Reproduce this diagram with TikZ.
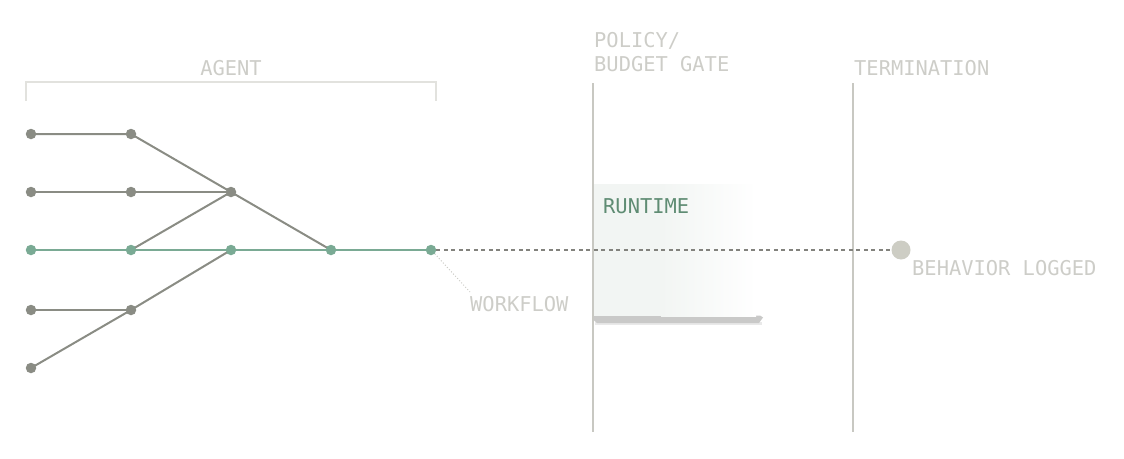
\documentclass[tikz,border=0pt]{standalone}
\usepackage{fontspec}
\newfontfamily\monof{DejaVu Sans Mono}
\usetikzlibrary{backgrounds}
\definecolor{edgegray}{RGB}{138,140,132}
\definecolor{flowgreen}{RGB}{122,170,148}
\definecolor{rulegray}{RGB}{200,200,194}
\definecolor{brackgray}{RGB}{226,226,222}
\definecolor{labgray}{RGB}{205,205,200}
\definecolor{dashgray}{RGB}{130,130,125}
\definecolor{rtgreen}{RGB}{95,140,115}
\definecolor{rtfill}{RGB}{242,245,243}
\definecolor{endgray}{RGB}{205,205,196}
\definecolor{shadowgray}{RGB}{201,201,200}
\tikzset{
  dotg/.style={circle,fill=edgegray,inner sep=0pt,minimum size=10.5pt},
  dotf/.style={circle,fill=flowgreen,inner sep=0pt,minimum size=10.5pt},
  ge/.style={edgegray,line width=2pt},
  fe/.style={flowgreen,line width=2.5pt},
  lab/.style={font=\monof\fontsize{20.4}{24}\selectfont,text=labgray,inner sep=0pt},
  rule/.style={rulegray,line width=2pt}
}
\begin{document}
\begin{tikzpicture}[x=1pt,y=-1pt]
\useasboundingbox (0,0) rectangle (1124,458);
% runtime box
\fill[shadowgray!40] (595,322) rectangle (762,325);
\fill[shadowgray] (594,315.5) -- (760,315.5) -- (763,317.5) -- (759,323) -- (597,323) -- (594,320.5) -- cycle;
\fill[rtfill] (593,184) rectangle (662,316);
\shade[left color=rtfill,right color=white] (661,184) rectangle (756,316);
\node[lab,text=rtgreen,anchor=base west] (rt) at (603,213) {RUNTIME};
% vertical rules
\coordinate (p1) at (593,83);
\coordinate (p2) at (593,432);
\coordinate (t1) at (853,83);
\coordinate (t2) at (853,432);
\draw[rule] (p1) -- (p2);
\draw[rule] (t1) -- (t2);
\node[lab,anchor=base west] (pol) at (594,47) {POLICY/};
\node[lab,anchor=base west] (bud) at (594,71.5) {BUDGET GATE};
\node[lab,anchor=base west] (term) at (854,75) {TERMINATION};
% bracket
\coordinate (b1) at (26,101);
\coordinate (b2) at (26,82);
\coordinate (b3) at (436,82);
\coordinate (b4) at (436,101);
\draw[brackgray,line width=2pt] (b1) -- (b2) -- (b3) -- (b4);
\node[lab,anchor=base] (agent) at (231,75) {AGENT};
% nodes
\node[dotg] (a1) at (31,134) {};
\node[dotg] (a2) at (131,134) {};
\node[dotg] (b1n) at (31,192) {};
\node[dotg] (b2n) at (131,192) {};
\node[dotg] (b3n) at (231,192) {};
\node[dotf] (g1) at (31,250) {};
\node[dotf] (g2) at (131,250) {};
\node[dotf] (g3) at (231,250) {};
\node[dotf] (g4) at (331,250) {};
\node[dotf] (g5) at (431,250) {};
\node[dotg] (c1) at (31,310) {};
\node[dotg] (c2) at (131,310) {};
\node[dotg] (d1) at (31,368) {};
\node[circle,fill=endgray,inner sep=0pt,minimum size=19pt] (end) at (901,250) {};
\begin{scope}[on background layer]
\draw[ge] (a1.center) -- (a2.center) -- (b3n.center);
\draw[ge] (b1n.center) -- (b2n.center) -- (b3n.center);
\draw[ge] (g2.center) -- (b3n.center) -- (g4.center);
\draw[ge] (g3.center) -- (c2.center) -- (d1.center);
\draw[ge] (c1.center) -- (c2.center);
\draw[fe] (g1.center) -- (g2.center) -- (g3.center) -- (g4.center) -- (g5.center);
\end{scope}
\draw[dashgray,line width=2pt,dash pattern=on 4pt off 3.5pt] (g5.east) -- (end.west);
% workflow leader
\coordinate (wf) at (470,292);
\draw[labgray,line width=1pt,dotted] (g5.south east) -- (wf);
\node[lab,anchor=base west] (wflab) at (470,311.5) {WORKFLOW};
\node[lab,anchor=base west] (beh) at (912,275) {BEHAVIOR LOGGED};
\end{tikzpicture}
\end{document}
